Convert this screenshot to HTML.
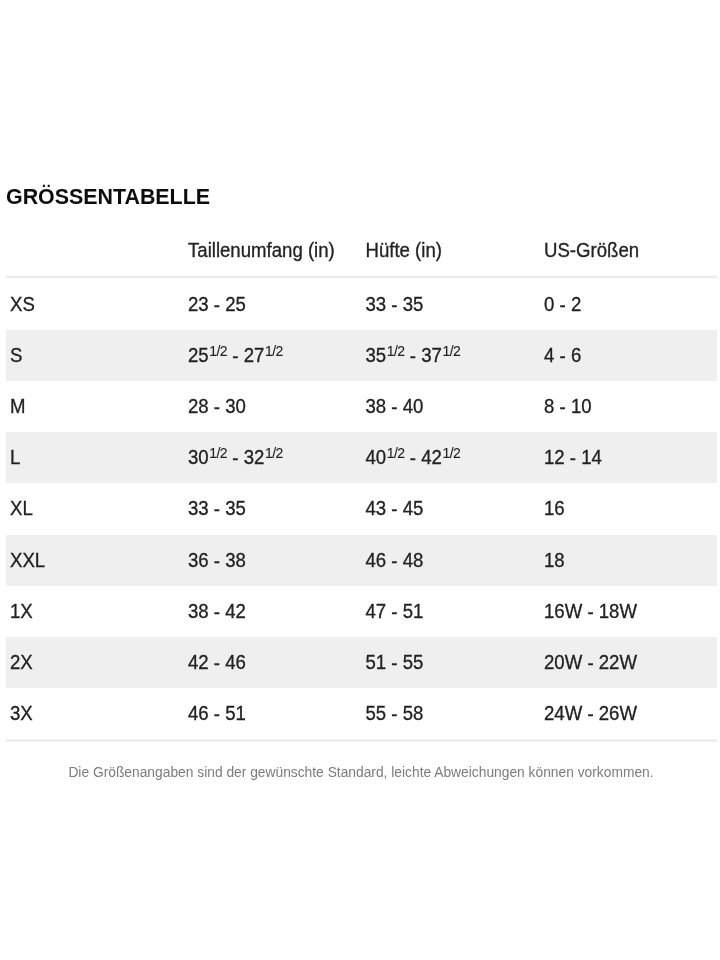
<!DOCTYPE html>
<html lang="de"><head><meta charset="utf-8"><title>Größentabelle</title>
<style>
html,body{margin:0;padding:0;background:#fff;}
body{width:720px;height:960px;overflow:hidden;position:relative;font-family:"Liberation Sans",Arial,sans-serif;color:#222;}
h1{position:absolute;left:6px;top:183.5px;margin:0;font-size:21.4px;line-height:26px;font-weight:bold;color:#0c0c0c;white-space:nowrap;}
.tbl{position:absolute;left:6px;top:225px;width:711px;font-size:18.6px;-webkit-text-stroke:0.3px #222;}
.r{position:absolute;left:0;width:711px;}
.r.g{background:#efefef;}
.c span{position:relative;display:inline-block;transform:scaleY(1.045);transform-origin:50% 50%}
.c{position:absolute;top:0;height:100%;display:flex;align-items:center;white-space:nowrap;}
.c1{left:4px}.c2{left:182px}.c3{left:359.5px}.c4{left:538px}
.ln{position:absolute;left:0;width:711px;height:4px;}
.ln i{display:block;height:1px;}
b{font-weight:normal;position:relative;top:1px}
sup{-webkit-text-stroke:0.1px #222;margin-left:.5px;margin-right:0px;letter-spacing:-0.5px;font-size:14px;vertical-align:baseline;position:relative;top:-6px;line-height:0;}
p{position:absolute;left:1px;width:720px;top:763.5px;margin:0;text-align:center;font-size:13.8px;line-height:17px;color:#7c7c7c;white-space:nowrap;}
</style></head><body>
<h1>GRÖSSENTABELLE</h1>
<div class="tbl">
<div class="r" style="top:0;height:51px"><div class="c c2"><span>Taillenumfang (in)</span></div><div class="c c3"><span>Hüfte (in)</span></div><div class="c c4"><span>US-Größen</span></div></div>
<div class="ln" style="top:50px"><i style="background:#f8f8f8"></i><i style="background:#ececec"></i><i style="background:#ededed"></i><i style="background:#f9f9f9"></i></div>
<div class="r" style="top:54px;height:51px"><div class="c c1"><span>XS</span></div><div class="c c2"><span>23 <b>-</b> 25</span></div><div class="c c3"><span>33 <b>-</b> 35</span></div><div class="c c4"><span>0 <b>-</b> 2</span></div></div>
<div class="r g" style="top:105px;height:51px"><div class="c c1"><span>S</span></div><div class="c c2"><span>25<sup>1/2</sup> <b>-</b> 27<sup>1/2</sup></span></div><div class="c c3"><span>35<sup>1/2</sup> <b>-</b> 37<sup>1/2</sup></span></div><div class="c c4"><span>4 <b>-</b> 6</span></div></div>
<div class="r" style="top:156px;height:51px"><div class="c c1"><span>M</span></div><div class="c c2"><span>28 <b>-</b> 30</span></div><div class="c c3"><span>38 <b>-</b> 40</span></div><div class="c c4"><span>8 <b>-</b> 10</span></div></div>
<div class="r g" style="top:207px;height:51px"><div class="c c1"><span>L</span></div><div class="c c2"><span>30<sup>1/2</sup> <b>-</b> 32<sup>1/2</sup></span></div><div class="c c3"><span>40<sup>1/2</sup> <b>-</b> 42<sup>1/2</sup></span></div><div class="c c4"><span>12 <b>-</b> 14</span></div></div>
<div class="r" style="top:258px;height:52px"><div class="c c1"><span>XL</span></div><div class="c c2"><span>33 <b>-</b> 35</span></div><div class="c c3"><span>43 <b>-</b> 45</span></div><div class="c c4"><span>16</span></div></div>
<div class="r g" style="top:310px;height:51px"><div class="c c1"><span>XXL</span></div><div class="c c2"><span>36 <b>-</b> 38</span></div><div class="c c3"><span>46 <b>-</b> 48</span></div><div class="c c4"><span>18</span></div></div>
<div class="r" style="top:361px;height:51px"><div class="c c1"><span>1X</span></div><div class="c c2"><span>38 <b>-</b> 42</span></div><div class="c c3"><span>47 <b>-</b> 51</span></div><div class="c c4"><span>16W <b>-</b> 18W</span></div></div>
<div class="r g" style="top:412px;height:51px"><div class="c c1"><span>2X</span></div><div class="c c2"><span>42 <b>-</b> 46</span></div><div class="c c3"><span>51 <b>-</b> 55</span></div><div class="c c4"><span>20W <b>-</b> 22W</span></div></div>
<div class="r" style="top:463px;height:51px"><div class="c c1"><span>3X</span></div><div class="c c2"><span>46 <b>-</b> 51</span></div><div class="c c3"><span>55 <b>-</b> 58</span></div><div class="c c4"><span>24W <b>-</b> 26W</span></div></div>
<div class="ln" style="top:514px"><i style="background:#f2f2f2"></i><i style="background:#eaeaea"></i><i style="background:#f1f1f1"></i><i style="background:#fdfdfd"></i></div>
</div>
<p>Die Größenangaben sind der gewünschte Standard, leichte Abweichungen können vorkommen.</p>
</body></html>
